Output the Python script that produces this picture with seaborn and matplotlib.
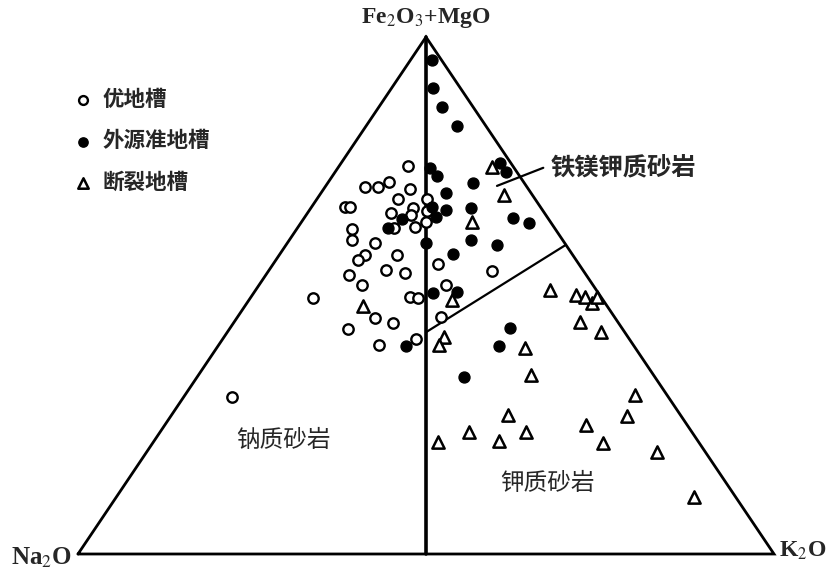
import numpy as np
import pandas as pd
import matplotlib
matplotlib.use("Agg")
import matplotlib.pyplot as plt
import seaborn as sns

# Compositions in %: Fe2O3+MgO, Na2O, K2O for each sample group
you_fe = [75.0, 71.0, 71.0, 72.0, 70.6, 68.7, 68.7, 67.1, 67.1, 66.9, 66.0, 65.6, 66.3,
          64.2, 62.9, 63.1, 63.2, 60.7, 60.2, 57.8, 56.9, 57.8, 54.0, 54.9, 54.4, 56.1,
          54.7, 52.0, 49.5, 49.7, 49.5, 52.0, 45.8, 45.6, 44.7, 43.5, 41.6, 40.4, 30.4]
you_na = [15.1, 23.3, 21.4, 19.3, 17.0, 19.7, 15.5, 28.1, 27.4, 18.4, 22.0, 19.4, 16.7,
          17.9, 29.2, 23.0, 20.0, 30.3, 27.2, 29.9, 31.3, 25.3, 34.1, 28.3, 25.8, 20.2,
          13.2, 33.2, 41.5, 27.5, 26.4, 21.1, 24.9, 34.5, 32.4, 39.5, 30.6, 36.6, 62.7]
you_k = [9.9, 5.7, 7.6, 8.7, 12.4, 11.6, 15.8, 4.8, 5.5, 14.7, 12.0, 15.0, 17.0,
         17.9, 7.9, 13.9, 16.8, 9.0, 12.6, 12.3, 11.8, 16.9, 11.9, 16.8, 19.8, 23.7,
         32.1, 14.8, 9.0, 22.8, 24.1, 26.9, 29.3, 19.9, 22.9, 17.0, 27.8, 23.0, 6.9]

wai_fe = [95.6, 90.1, 86.5, 82.8, 74.7, 73.1, 75.6, 73.9, 71.8, 69.8, 67.1, 66.5, 65.2, 64.8,
          66.9, 65.0, 64.0, 63.1, 60.7, 59.8, 60.2, 58.0, 50.5, 50.7, 40.2, 43.7, 40.2, 34.2]
wai_na = [1.3, 4.0, 4.4, 4.1, 12.1, 11.9, 1.6, 1.6, 7.4, 12.2, 15.6, 13.9, 16.0, 21.0,
          10.1, 5.0, 3.2, 23.9, 13.2, 9.9, 19.9, 17.1, 23.7, 20.2, 32.8, 16.1, 19.4, 27.4]
wai_k = [3.1, 5.9, 9.1, 13.1, 13.2, 15.0, 22.8, 24.5, 20.8, 18.0, 17.3, 19.6, 18.8, 14.2,
         23.0, 30.0, 32.8, 13.0, 26.1, 30.3, 19.9, 24.9, 25.8, 29.1, 27.0, 40.2, 40.4, 38.4]

duan_fe = [74.9, 69.4, 64.2, 49.1, 48.0, 42.0, 40.4, 51.1, 50.1, 49.7, 48.5, 49.7, 44.9, 42.9,
           39.8, 34.6, 30.8, 26.7, 26.9, 25.0, 23.6, 23.6, 21.7, 21.9, 21.5, 19.7, 11.0]
duan_na = [3.1, 4.1, 11.3, 21.7, 35.0, 26.4, 27.9, 6.6, 3.4, 2.3, 1.9, 0.6, 5.4, 3.4,
           15.9, 17.6, 4.6, 7.8, 24.8, 14.5, 32.0, 23.8, 37.4, 28.6, 13.8, 7.0, 6.0]
duan_k = [22.0, 26.5, 24.5, 29.2, 17.0, 31.6, 31.7, 42.3, 46.5, 48.0, 49.6, 49.7, 49.7, 53.7,
          44.3, 47.8, 64.6, 65.5, 48.3, 60.5, 44.4, 52.6, 40.9, 49.5, 64.7, 73.3, 83.0]

group_names = ["优地槽", "外源准地槽", "断裂地槽"]

# Field boundaries (Fe2O3+MgO, Na2O, K2O) in %
na_k_split = [(100.0, 0.0, 0.0), (0.0, 50.0, 50.0)]
femg_split = [(42.9, 28.55, 28.55), (59.8, 0.0, 40.2)]
label_leader = [(71.2, 4.2, 24.6), (74.7, -4.2, 29.5)]


def to_xy(fe, na, k):
    fe = np.asarray(fe, float)
    na = np.asarray(na, float)
    k = np.asarray(k, float)
    s = fe + na + k
    return k / s + fe / s / 2.0, fe / s


frames = []
for name, fe, na, k in zip(group_names,
                           [you_fe, wai_fe, duan_fe],
                           [you_na, wai_na, duan_na],
                           [you_k, wai_k, duan_k]):
    x, y = to_xy(fe, na, k)
    frames.append(pd.DataFrame({"x": x, "y": y, "group": name}))
df = pd.concat(frames, ignore_index=True)

sns.set_theme(style="white")
plt.rcParams["font.family"] = ["Noto Sans CJK SC", "DejaVu Sans"]
plt.rcParams["mathtext.fontset"] = "stix"

W, H = 827, 573
fig = plt.figure(figsize=(W / 100, H / 100), dpi=100)
ax = fig.add_axes([0, 0, 1, 1])
ax.set_xlim(-78 / 696, (W - 78) / 696)
ax.set_ylim(-(H - 554) / 517, 554 / 517)
ax.axis("off")

# triangle outline
tri_x, tri_y = to_xy([0, 0, 100, 0], [100, 0, 0, 100], [0, 100, 0, 0])
ax.plot(tri_x, tri_y, color="black", lw=2.0, solid_joinstyle="miter", zorder=1)

for seg, lw in [(na_k_split, 2.6), (femg_split, 1.6), (label_leader, 1.6)]:
    fe, na, k = zip(*seg)
    sx, sy = to_xy(fe, na, k)
    ax.plot(sx, sy, color="black", lw=lw, zorder=1)

styles = {
    "优地槽": dict(marker="o", s=56, facecolor="white", edgecolor="black", linewidth=1.7),
    "外源准地槽": dict(marker="o", s=62, facecolor="black", edgecolor="black", linewidth=1.0),
    "断裂地槽": dict(marker="^", s=78, facecolor="white", edgecolor="black", linewidth=1.8),
}
for name in group_names:
    sub = df[df["group"] == name]
    sns.scatterplot(data=sub, x="x", y="y", ax=ax, label=name, zorder=3, **styles[name])

ax.legend(loc="upper left", bbox_to_anchor=(72 / W, 1 - 89 / H), frameon=False,
          labelspacing=0.95, handlelength=1.0, handletextpad=0.4, borderpad=0,
          borderaxespad=0, markerscale=0.85,
          prop={"family": ["Noto Sans CJK SC"], "size": 15.5, "weight": "bold"})

serif = ["Liberation Serif", "DejaVu Serif"]
ax.text(0.5, (554 - 18) / 517, r"Fe$_2$O$_3$+MgO", ha="center", va="center",
        fontsize=17, family=serif, fontweight="bold")
ax.text(-6 / 696, -4 / 517, r"Na$_2$O", ha="right", va="center",
        fontsize=18, family=serif, fontweight="bold")
ax.text(1.0 + 5 / 696, 3 / 517, r"K$_2$O", ha="left", va="center",
        fontsize=17, family=serif, fontweight="bold")

ax.text(*to_xy(22, 59.5, 18.5), "钠质砂岩", ha="center", va="center", fontsize=17)
ax.text(*to_xy(13.7, 25.7, 60.6), "钾质砂岩", ha="center", va="center", fontsize=17)
ax.text(*to_xy(74.7, -5.2, 30.5), "铁镁钾质砂岩", ha="left", va="center",
        fontsize=17.5, fontweight="bold")

fig.savefig("out.png", dpi=100)
